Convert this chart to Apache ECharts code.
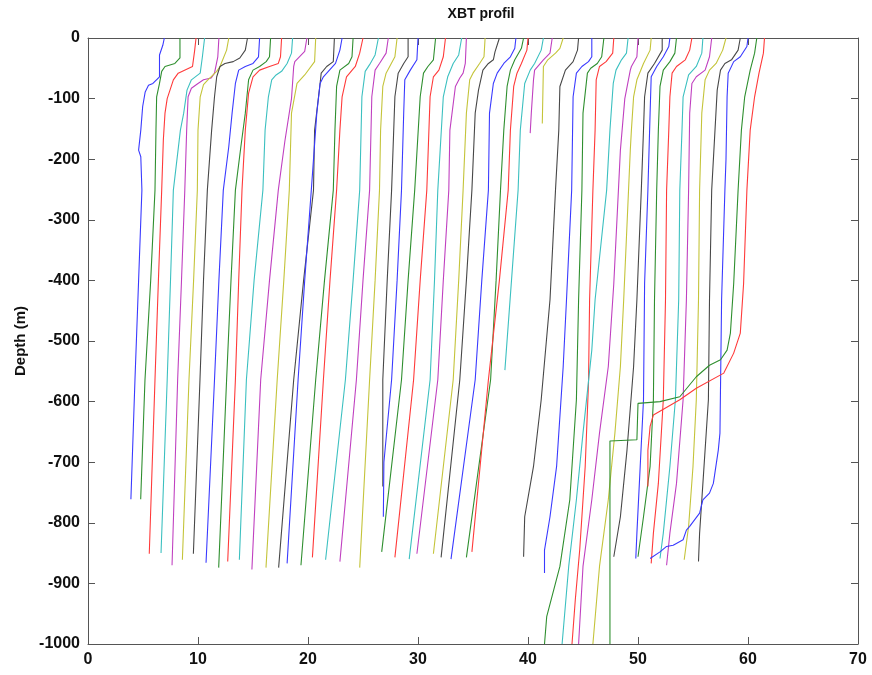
<!DOCTYPE html>
<html>
<head>
<meta charset="utf-8">
<script src="https://cdn.jsdelivr.net/npm/echarts@6/dist/echarts.min.js"></script>
<style>
html,body{margin:0;padding:0;background:#fff;}
#chart{width:872px;height:675px;}
</style>
</head>
<body>
<div id="chart"></div>
<script>
// MATLAB default line colour order (b, g, r, c, m, y, k)
const colorOrder = ['#3a3aff', '#2f8f2f', '#ff3a3a', '#3cc0c0', '#c040c0', '#c4c43a', '#484848'];

const xTicks = [0, 10, 20, 30, 40, 50, 60, 70];
const yTicks = [0, -100, -200, -300, -400, -500, -600, -700, -800, -900, -1000];

// Each profile: list of [offset temperature (x), depth (m)]
const profiles = [
  [[6.94,0],[6.8,-12],[6.5,-28],[6.5,-64],[5.9,-75],[5.5,-78],[5.2,-89],[4.97,-113],[4.8,-152],[4.6,-185],[4.8,-196],[4.9,-251],[4.6,-400],[4.27,-564],[3.9,-761]],
  [[8.36,0],[8.36,-33],[7.9,-42],[7.0,-47],[6.7,-55],[6.5,-75],[6.24,-97],[6.18,-152],[6.09,-251],[5.7,-400],[5.18,-564],[4.79,-761]],
  [[9.82,0],[9.7,-20],[9.5,-47],[8.2,-58],[7.76,-69],[7.2,-100],[7.0,-124],[6.85,-168],[6.7,-251],[6.4,-400],[6.09,-564],[5.57,-851]],
  [[10.6,0],[10.4,-31],[10.2,-58],[9.4,-69],[9.0,-86],[8.7,-124],[8.4,-152],[7.76,-251],[7.5,-400],[7.2,-564],[6.64,-850]],
  [[11.9,0],[11.8,-31],[11.5,-58],[11.2,-66],[10.5,-69],[10.0,-75],[9.4,-83],[9.1,-97],[8.97,-152],[8.8,-251],[8.5,-400],[8.15,-564],[7.64,-870]],
  [[12.8,0],[12.6,-20],[12.0,-47],[11.7,-55],[10.9,-69],[10.5,-77],[10.2,-97],[10.0,-152],[9.94,-251],[9.6,-400],[9.18,-564],[8.58,-861]],
  [[14.5,0],[14.3,-20],[13.8,-33],[13.2,-39],[12.45,-42],[12.0,-47],[11.7,-64],[11.5,-97],[11.24,-152],[10.85,-251],[10.5,-400],[10.18,-564],[9.58,-851]],
  [[15.6,0],[15.5,-31],[15.0,-42],[14.3,-47],[13.7,-53],[13.4,-75],[13.1,-124],[12.8,-179],[12.3,-251],[11.9,-400],[11.5,-564],[10.73,-866]],
  [[16.6,0],[16.5,-31],[16.2,-39],[15.6,-47],[15.0,-53],[14.6,-69],[14.3,-124],[13.9,-179],[13.4,-251],[13.0,-400],[12.6,-564],[11.88,-874]],
  [[17.6,0],[17.5,-31],[17.3,-42],[16.5,-47],[15.6,-53],[15.0,-64],[14.6,-91],[14.3,-152],[14.0,-251],[13.7,-400],[13.4,-564],[12.7,-864]],
  [[18.6,0],[18.5,-25],[18.1,-42],[17.6,-55],[17.1,-61],[16.7,-69],[16.4,-97],[16.1,-152],[15.9,-251],[15.1,-400],[14.4,-564],[13.76,-861]],
  [[19.9,0],[19.7,-22],[18.8,-39],[18.7,-47],[18.5,-100],[17.9,-170],[17.3,-251],[16.5,-400],[15.7,-564],[14.9,-877]],
  [[20.7,0],[20.6,-39],[19.7,-61],[19.0,-75],[18.5,-124],[18.3,-251],[17.8,-400],[17.2,-564],[16.18,-874]],
  [[22.4,0],[22.3,-39],[21.7,-47],[21.2,-58],[21.1,-75],[20.6,-152],[20.5,-251],[19.6,-400],[18.7,-564],[17.33,-874]],
  [[23.1,0],[22.9,-20],[22.5,-42],[21.4,-64],[21.1,-75],[20.8,-124],[20.3,-251],[19.7,-400],[19.1,-564],[18.1,-867]],
  [[24.1,0],[24.0,-31],[23.7,-42],[22.9,-53],[22.6,-80],[22.45,-152],[22.3,-251],[21.5,-400],[20.7,-564],[19.36,-870]],
  [[25.0,0],[24.7,-25],[24.3,-47],[23.5,-64],[23.1,-97],[22.9,-152],[22.6,-251],[22.0,-400],[21.4,-564],[20.4,-857]],
  [[26.4,0],[26.1,-28],[25.6,-44],[25.2,-55],[24.9,-97],[24.7,-251],[24.1,-400],[23.4,-564],[21.6,-861]],
  [[27.3,0],[27.1,-25],[26.5,-42],[26.1,-53],[25.8,-97],[25.6,-251],[25.0,-400],[24.4,-564],[22.9,-864]],
  [[28.1,0],[27.9,-31],[27.1,-58],[26.8,-80],[26.6,-152],[26.5,-251],[26.1,-400],[25.6,-564],[24.7,-874]],
  [[29.1,0],[29.1,-31],[28.7,-42],[28.2,-58],[27.9,-97],[27.6,-251],[27.2,-400],[26.8,-564],[26.8,-740]],
  [[30.0,0],[29.9,-36],[29.3,-53],[28.8,-69],[28.7,-124],[28.5,-251],[28.1,-400],[27.6,-564],[26.9,-700],[26.85,-790]],
  [[31.6,0],[31.4,-36],[30.9,-47],[30.5,-58],[30.2,-97],[29.7,-251],[29.1,-400],[28.5,-564],[26.7,-848]],
  [[32.5,0],[32.3,-31],[31.9,-53],[31.4,-64],[31.1,-97],[30.8,-251],[30.2,-400],[29.6,-564],[27.9,-857]],
  [[33.97,0],[33.7,-28],[33.2,-42],[32.7,-64],[32.3,-97],[31.8,-251],[31.5,-400],[31.1,-564],[29.2,-860]],
  [[34.4,0],[34.3,-42],[34.1,-58],[33.8,-66],[33.4,-80],[32.9,-152],[32.8,-251],[32.3,-400],[31.8,-564],[29.9,-851]],
  [[36.1,0],[36.0,-31],[35.6,-42],[35.0,-58],[34.7,-69],[34.4,-124],[34.1,-251],[33.7,-400],[33.2,-564],[31.4,-851]],
  [[37.4,0],[37.0,-23],[36.85,-36],[36.4,-42],[35.9,-53],[35.5,-86],[35.2,-124],[34.9,-251],[34.4,-400],[33.8,-564],[32.1,-857]],
  [[38.9,0],[38.8,-17],[38.4,-31],[37.8,-42],[37.2,-58],[36.85,-75],[36.5,-124],[36.4,-251],[35.8,-400],[35.2,-564],[33.0,-860]],
  [[39.6,0],[39.4,-17],[38.8,-36],[38.4,-53],[38.1,-80],[37.8,-152],[37.5,-251],[37.1,-400],[36.6,-564],[34.4,-857]],
  [[40.0,0],[39.9,-20],[39.4,-42],[39.0,-58],[38.7,-80],[38.4,-152],[38.2,-251],[37.4,-400],[36.4,-564],[34.9,-848]],
  [[41.4,0],[41.2,-20],[40.6,-42],[40.2,-53],[39.7,-75],[39.3,-152],[39.1,-251],[38.5,-400],[37.9,-548]],
  [[42.2,0],[42.0,-25],[41.4,-36],[40.6,-53],[40.5,-69],[40.3,-124],[40.2,-157]],
  [[43.2,0],[42.9,-17],[42.5,-25],[41.8,-36],[41.4,-47],[41.3,-141]],
  [[44.6,0],[44.5,-20],[44.1,-39],[43.4,-53],[42.9,-80],[42.8,-152],[42.5,-251],[42.0,-432],[41.2,-597],[40.5,-707],[39.7,-790],[39.6,-856]],
  [[45.8,0],[45.8,-31],[45.5,-39],[44.9,-47],[44.4,-58],[44.1,-97],[43.97,-251],[43.5,-432],[43.2,-542],[42.6,-707],[42.0,-790],[41.5,-845],[41.5,-883]],
  [[46.9,0],[46.7,-31],[46.3,-42],[45.7,-50],[45.4,-58],[45.0,-124],[44.9,-251],[44.6,-432],[44.4,-597],[43.8,-762],[42.9,-872],[41.7,-955],[41.5,-1000]],
  [[47.8,0],[47.7,-25],[47.1,-39],[46.5,-47],[46.2,-69],[46.1,-152],[45.9,-251],[45.6,-432],[45.5,-570],[45.2,-707],[44.7,-845],[44.3,-927],[44.0,-1000]],
  [[49.1,0],[48.95,-25],[48.5,-36],[48.0,-53],[47.75,-75],[47.45,-152],[47.15,-251],[46.1,-432],[45.8,-515],[45.0,-652],[44.4,-762],[43.7,-872],[43.1,-1000]],
  [[50.0,0],[49.9,-31],[49.4,-47],[49.3,-53],[48.8,-100],[48.4,-185],[47.8,-405],[47.3,-542],[46.5,-652],[45.8,-762],[45.0,-872],[44.6,-1000]],
  [[51.2,0],[51.1,-20],[50.5,-42],[49.9,-69],[49.6,-97],[49.4,-152],[49.3,-185],[48.7,-432],[48.4,-542],[47.9,-652],[47.3,-762],[46.5,-872],[45.9,-1000]],
  [[52.2,0],[52.2,-20],[51.5,-42],[50.9,-58],[50.6,-97],[50.5,-152],[50.3,-251],[49.9,-432],[49.6,-542],[49.0,-680],[48.4,-790],[47.8,-856]],
  [[52.9,0],[52.8,-14],[52.3,-31],[51.7,-47],[51.2,-64],[51.1,-124],[50.9,-251],[50.6,-405],[50.5,-597],[50.2,-707],[49.9,-817],[49.8,-859]],
  [[53.5,0],[53.35,-25],[52.9,-39],[52.3,-53],[52.0,-80],[51.85,-152],[51.7,-251],[51.5,-432],[51.4,-597],[51.1,-707],[50.5,-790],[50.0,-856]],
  [[54.9,0],[54.7,-20],[54.3,-36],[53.5,-47],[53.1,-58],[52.9,-97],[52.8,-152],[52.6,-251],[52.5,-432],[52.3,-597],[51.85,-735],[51.4,-817],[51.2,-867]],
  [[55.9,0],[55.8,-25],[55.3,-47],[54.6,-61],[54.1,-97],[54.0,-152],[53.8,-251],[53.7,-432],[53.4,-597],[52.9,-707],[52.3,-817],[52.0,-859]],
  [[56.7,0],[56.5,-31],[56.1,-53],[55.3,-64],[54.9,-75],[54.7,-124],[54.6,-251],[54.4,-432],[54.1,-597],[53.5,-735],[52.9,-817],[52.6,-870]],
  [[58.0,0],[57.7,-20],[57.1,-42],[56.5,-53],[56.1,-69],[55.8,-124],[55.6,-251],[55.5,-432],[55.3,-597],[55.0,-707],[54.6,-806],[54.2,-861]],
  [[59.3,0],[59.1,-20],[58.5,-36],[57.9,-42],[57.5,-53],[57.2,-86],[57.0,-152],[56.7,-251],[56.5,-432],[56.4,-597],[55.9,-735],[55.6,-817],[55.5,-864]],
  [[60.0,0],[59.9,-14],[59.3,-31],[58.7,-39],[58.2,-58],[58.1,-97],[58.0,-200],[57.9,-251],[57.6,-432],[57.45,-652],[57.3,-680],[56.85,-735],[56.5,-751],[55.9,-762],[55.6,-784],[54.7,-806],[54.4,-812],[54.1,-828],[53.2,-837],[52.6,-839],[52.0,-848],[51.1,-859]],
  [[60.8,0],[60.6,-25],[60.2,-53],[59.7,-97],[59.4,-152],[59.1,-251],[58.7,-405],[58.4,-487],[58.1,-515],[57.5,-531],[56.5,-540],[55.3,-559],[53.8,-592],[52.0,-600],[50.0,-603],[49.9,-663],[47.45,-665],[47.45,-1000]],
  [[61.5,0],[61.4,-25],[61.0,-58],[60.6,-97],[60.2,-152],[59.9,-251],[59.6,-405],[59.3,-487],[58.7,-520],[57.8,-553],[55.3,-578],[53.8,-597],[51.4,-622],[51.1,-641],[50.9,-680],[50.9,-740]]
];

const chart = echarts.init(document.getElementById('chart'), null, {renderer: 'canvas'});
const FONT = 'Liberation Sans, Arial, sans-serif';
const axisLineStyle = {color: '#555555', width: 1};

const series = profiles.map((p, i) => ({
  type: 'line',
  data: p,
  showSymbol: false,
  symbol: 'none',
  smooth: false,
  clip: true,
  silent: true,
  lineStyle: {color: colorOrder[i % colorOrder.length], width: 1.1},
  itemStyle: {color: colorOrder[i % colorOrder.length]},
  z: 2
}));

const xMin = xTicks[0], xMax = xTicks[xTicks.length - 1];
const yMin = yTicks[yTicks.length - 1], yMax = yTicks[0];

chart.setOption({
  animation: false,
  backgroundColor: '#ffffff',
  title: {
    text: 'XBT profil',
    left: 476,
    top: 2,
    textAlign: 'center',
    textStyle: {fontFamily: FONT, fontWeight: 'bold', fontSize: 14, color: '#111'}
  },
  grid: {left: 88, top: 38, width: 770, height: 606, containLabel: false},
  xAxis: [
    {
      type: 'value', min: xMin, max: xMax, interval: 10, position: 'bottom',
      axisLine: {show: true, onZero: false, lineStyle: axisLineStyle},
      axisTick: {show: true, inside: true, length: 7, lineStyle: axisLineStyle},
      axisLabel: {show: true, margin: 8, fontFamily: FONT, fontWeight: 'bold', fontSize: 16, color: '#111',
        formatter: v => String(v)},
      splitLine: {show: false}
    },
    {
      type: 'value', min: xMin, max: xMax, interval: 10, position: 'top',
      axisLine: {show: true, onZero: false, lineStyle: axisLineStyle},
      axisTick: {show: true, inside: true, length: 7, lineStyle: axisLineStyle},
      axisLabel: {show: false},
      splitLine: {show: false}
    }
  ],
  yAxis: [
    {
      type: 'value', min: yMin, max: yMax, interval: 100, position: 'left',
      name: 'Depth (m)', nameLocation: 'middle', nameGap: 56, nameRotate: 90,
      nameTextStyle: {fontFamily: FONT, fontWeight: 'bold', fontSize: 15, color: '#111'},
      axisLine: {show: true, onZero: false, lineStyle: axisLineStyle},
      axisTick: {show: true, inside: true, length: 7, lineStyle: axisLineStyle},
      axisLabel: {show: true, margin: 8, fontFamily: FONT, fontWeight: 'bold', fontSize: 16, color: '#111',
        formatter: v => String(v)},
      splitLine: {show: false}
    },
    {
      type: 'value', min: yMin, max: yMax, interval: 100, position: 'right',
      axisLine: {show: true, onZero: false, lineStyle: axisLineStyle},
      axisTick: {show: true, inside: true, length: 7, lineStyle: axisLineStyle},
      axisLabel: {show: false},
      splitLine: {show: false}
    }
  ],
  series: series
});
</script>
</body>
</html>
